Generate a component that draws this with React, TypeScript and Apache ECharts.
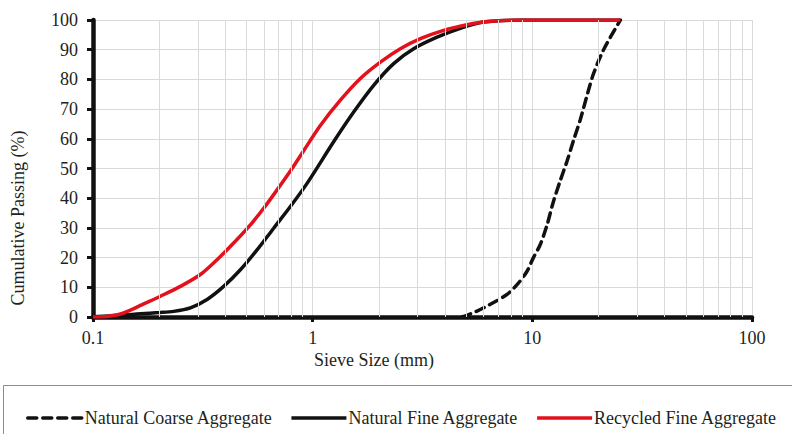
import React, { useEffect, useRef } from "react";
import * as echarts from "echarts";

// Sieve size (mm) and cumulative passing (%)
const coarseSize = [4.79, 5.6, 6.44, 7.67, 8.66, 9.46, 10.1, 10.88, 11.67, 12.43, 13.41, 14.39, 15.42, 16.54, 18.04, 19.01, 21.11, 25.16];
const coarsePass = [0, 2.0, 4.3, 7.6, 11.5, 15.4, 19.9, 24.5, 31, 38.5, 46, 52.5, 59.6, 66.5, 76.5, 82, 90, 100];

const fineSize = [0.1, 0.1333, 0.1643, 0.2, 0.233, 0.2776, 0.3307, 0.3934, 0.4688, 0.5582, 0.6645, 0.7917, 0.943, 1.246, 1.537, 1.895, 2.337, 2.883, 3.683, 4.701, 6.002, 8.82, 25.16];
const finePass = [0.1, 0.6, 1.1, 1.5, 1.9, 3.1, 5.9, 10.3, 15.9, 22.6, 29.9, 37.2, 45, 59, 69, 78, 85.3, 90.3, 94.2, 97.2, 99.3, 100, 100];

const recSize = [0.1, 0.115, 0.1333, 0.15, 0.1643, 0.2026, 0.2499, 0.3082, 0.3671, 0.4369, 0.5204, 0.5984, 0.6887, 0.8057, 0.91, 1.084, 1.337, 1.649, 2.033, 2.507, 3.093, 3.947, 5.04, 6.22, 8.82, 25.16];
const recPass = [0, 0.2, 1.0, 2.5, 3.9, 7, 10.3, 14.3, 19.3, 24.9, 31, 36.6, 42.8, 50.0, 56.0, 64.5, 73.0, 80.3, 85.8, 90.3, 93.7, 96.5, 98.4, 99.5, 100, 100];

const minorGridX = [0.2, 0.3, 0.4, 0.5, 0.6, 0.7, 0.8, 0.9, 2, 3, 4, 5, 6, 7, 8, 9, 20, 30, 40, 50, 60, 70, 80, 90];

const seriesNames = ["Natural Coarse Aggregate", "Natural Fine Aggregate", "Recycled Fine Aggregate"];

const FONT = "'Liberation Serif', 'Times New Roman', serif";
const TXT = "#231f20";

const pairs = (xs: number[], ys: number[]) => xs.map((x, i) => [x, ys[i]]);

export default function App() {
  const ref = useRef<HTMLDivElement>(null);
  useEffect(() => {
    if (!ref.current) return;
    const chart = echarts.init(ref.current, undefined, { renderer: "svg" });
    chart.setOption({
      animation: false,
      backgroundColor: "#fff",
      grid: { left: 93, right: 40, top: 20, bottom: 117, containLabel: false },
      xAxis: {
        type: "log",
        logBase: 10,
        min: 0.1,
        max: 100,
        axisLine: { show: true, onZero: false, lineStyle: { color: "#111", width: 4.5 } },
        axisTick: { show: true, length: 5, lineStyle: { color: "#111", width: 3 } },
        axisLabel: {
          fontFamily: FONT,
          fontSize: 18,
          color: TXT,
          margin: 12,
          formatter: (v: number) => String(Math.round(v * 10) / 10),
        },
        splitLine: { show: true, lineStyle: { color: "#d9d9d9", width: 1 } },
      },
      yAxis: {
        type: "value",
        min: 0,
        max: 100,
        interval: 10,
        axisLine: { show: true, lineStyle: { color: "#111", width: 4.5 } },
        axisTick: { show: true, length: 6, lineStyle: { color: "#111", width: 3 } },
        axisLabel: { fontFamily: FONT, fontSize: 18, color: TXT, margin: 15 },
        splitLine: { show: true, lineStyle: { color: "#d9d9d9", width: 1 } },
      },
      legend: {
        data: seriesNames,
        left: 21,
        top: 404,
        itemWidth: 55,
        itemHeight: 14,
        itemGap: 17,
        itemStyle: { opacity: 0 },
        lineStyle: { width: 3.5 },
        textStyle: { fontFamily: FONT, fontSize: 18, color: TXT, padding: [0, 0, 0, -3] },
      },
      graphic: [
        {
          type: "rect",
          shape: { x: 3.5, y: 385.5, width: 820, height: 80 },
          style: { fill: "none", stroke: "#8c8c8c", lineWidth: 1 },
          silent: true,
        },
        {
          type: "text",
          x: 374,
          y: 360,
          style: {
            text: "Sieve Size (mm)",
            font: `18px ${FONT}`,
            fill: TXT,
            textAlign: "center",
            textVerticalAlign: "middle",
          },
        },
        {
          type: "text",
          x: 18,
          y: 218,
          rotation: Math.PI / 2,
          style: {
            text: "Cumulative Passing (%)",
            font: `18px ${FONT}`,
            fill: TXT,
            textAlign: "center",
            textVerticalAlign: "middle",
          },
        },
      ],
      series: [
        {
          name: "minor-grid",
          type: "line",
          data: [],
          z: 1,
          silent: true,
          markLine: {
            silent: true,
            symbol: ["none", "none"],
            label: { show: false },
            lineStyle: { color: "#d9d9d9", width: 1, type: "solid" },
            data: minorGridX.map((v) => ({ xAxis: v })),
          },
        },
        {
          name: seriesNames[0],
          type: "line",
          data: pairs(coarseSize, coarsePass),
          smooth: 0.3,
          symbol: "none",
          z: 3,
          color: "#111",
          lineStyle: { color: "#111", width: 3.5, type: [9, 6], cap: "round" },
        },
        {
          name: seriesNames[1],
          type: "line",
          data: pairs(fineSize, finePass),
          smooth: 0.3,
          symbol: "none",
          z: 3,
          color: "#111",
          lineStyle: { color: "#111", width: 3.5 },
        },
        {
          name: seriesNames[2],
          type: "line",
          data: pairs(recSize, recPass),
          smooth: 0.3,
          symbol: "none",
          z: 4,
          color: "#e3111b",
          lineStyle: { color: "#e3111b", width: 3.5 },
        },
      ],
    });
    return () => chart.dispose();
  }, []);
  return <div ref={ref} style={{ width: 792, height: 434, position: "absolute", left: 0, top: 0 }} />;
}
